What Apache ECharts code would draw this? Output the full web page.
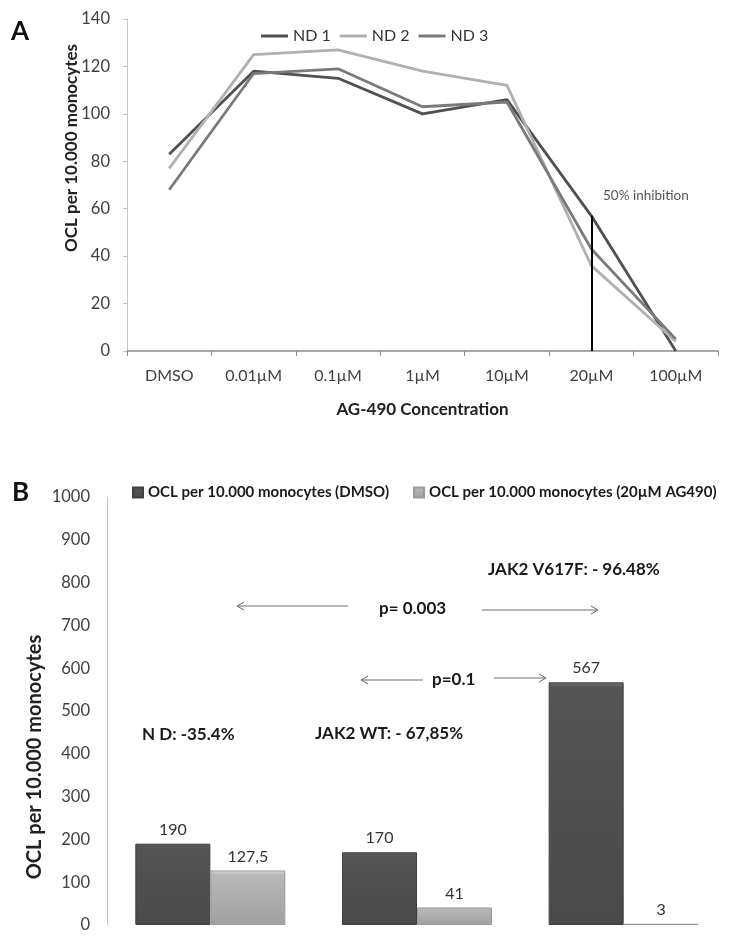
<!DOCTYPE html>
<html>
<head>
<meta charset="utf-8">
<script src="https://cdn.jsdelivr.net/npm/echarts@6/dist/echarts.min.js"></script>
<style>
  html, body { margin: 0; padding: 0; background: #fff; }
  #chart { width: 732px; height: 944px; }
</style>
</head>
<body>
<div id="chart"></div>
<script>
// ---------- Data: panel A ----------
const concentrations = ['DMSO', '0.01µM', '0.1µM', '1µM', '10µM', '20µM', '100µM'];
const nd1 = [83, 118, 115, 100, 106, 57, 0];
const nd2 = [77, 125, 127, 118, 112, 36, 4];
const nd3 = [68, 117, 119, 103, 105, 43, 5];
const inhibitionAt = '20µM';
const inhibitionValue = 57;
const yMinA = 0, yMaxA = 140, yStepA = 20;

// ---------- Data: panel B ----------
const groupsB = ['N D', 'JAK2 WT', 'JAK2 V617F'];
const dmsoValues = [190, 170, 567];
const ag490Values = [127.5, 41, 3];
const yMinB = 0, yMaxB = 1000, yStepB = 100;

const FONT = 'Lato, "Open Sans", sans-serif';
const chart = echarts.init(document.getElementById('chart'));

function arrow(x1, x2, y, headAtLeft) {
  const hx = headAtLeft ? x1 : x2;
  const d = headAtLeft ? 7 : -7;
  return [
    { type: 'line', shape: { x1: x1, y1: y, x2: x2, y2: y }, style: { stroke: '#6a6a6a', lineWidth: 1 } },
    { type: 'polyline', shape: { points: [[hx + d, y - 4], [hx, y], [hx + d, y + 4]] }, style: { stroke: '#6a6a6a', lineWidth: 1, fill: null } }
  ];
}

function txt(x, y, text, size, weight, color) {
  return {
    type: 'text', x: x, y: y,
    style: { text: text, fontFamily: FONT, fontSize: size, fontWeight: weight, fill: color, align: 'left', verticalAlign: 'middle' }
  };
}

const graphics = [
  txt(11, 32, 'A', 26, 'bold', '#111'),
  txt(12, 493, 'B', 26, 'bold', '#111'),
  { type: 'text', x: 72, y: 148, rotation: Math.PI / 2,
    style: { text: 'OCL per 10.000 monocytes', fontFamily: FONT, fontSize: 17, fontWeight: 'bold', fill: '#222', align: 'center', verticalAlign: 'middle' } },
  { type: 'text', x: 35, y: 757, rotation: Math.PI / 2,
    style: { text: 'OCL per 10.000 monocytes', fontFamily: FONT, fontSize: 20, fontWeight: 'bold', fill: '#222', align: 'center', verticalAlign: 'middle' } },
  txt(603, 196, '50% inhibition', 13.5, 'normal', '#555'),
  txt(142, 735, 'N D: -35.4%', 17, 'bold', '#1a1a1a'),
  txt(315, 734, 'JAK2 WT: - 67,85%', 17, 'bold', '#1a1a1a'),
  txt(488, 570, 'JAK2 V617F: - 96.48%', 17, 'bold', '#1a1a1a'),
  txt(379, 609, 'p= 0.003', 17, 'bold', '#1a1a1a'),
  txt(432, 680, 'p=0.1', 17, 'bold', '#1a1a1a')
].concat(
  arrow(237, 348, 606, true),
  arrow(482, 598, 610, false),
  arrow(361, 423, 680, true),
  arrow(494, 546, 678, false)
);

const lineCommon = { type: 'line', xAxisIndex: 0, yAxisIndex: 0, symbol: 'none', smooth: false };

const option = {
  animation: false,
  backgroundColor: '#fff',
  textStyle: { fontFamily: FONT },
  graphic: graphics,
  legend: [
    {
      data: ['ND 1', 'ND 2', 'ND 3'],
      left: 256, top: 23,
      icon: 'rect', itemWidth: 27, itemHeight: 3, itemGap: 9,
      textStyle: { fontFamily: FONT, fontSize: 16, color: '#333' }
    },
    {
      data: ['OCL per 10.000 monocytes (DMSO)', 'OCL per 10.000 monocytes (20µM AG490)'],
      left: 127, top: 480,
      icon: 'rect', itemWidth: 10, itemHeight: 10, itemGap: 24,
      textStyle: { fontFamily: FONT, fontSize: 15, fontWeight: 'bold', color: '#1a1a1a' }
    }
  ],
  grid: [
    { left: 127, width: 591, top: 19, height: 332 },
    { left: 107, width: 620, top: 497, height: 428 }
  ],
  xAxis: [
    {
      gridIndex: 0, type: 'category', data: concentrations, boundaryGap: true,
      name: 'AG-490 Concentration', nameLocation: 'middle', nameGap: 50,
      nameTextStyle: { fontFamily: FONT, fontSize: 17, fontWeight: 'bold', color: '#222' },
      axisLine: { lineStyle: { color: '#8c8c8c', width: 1.5 } },
      axisTick: { show: true, length: 5, lineStyle: { color: '#8c8c8c' } },
      axisLabel: { fontSize: 16, color: '#404040', margin: 17, fontFamily: FONT },
      splitLine: { show: false }
    },
    {
      gridIndex: 1, type: 'category', data: groupsB,
      axisLine: { show: false }, axisTick: { show: false }, axisLabel: { show: false }, splitLine: { show: false }
    }
  ],
  yAxis: [
    {
      gridIndex: 0, type: 'value', min: yMinA, max: yMaxA, interval: yStepA,
      axisLine: { show: true, lineStyle: { color: '#c4c4c4' } },
      axisTick: { show: true, length: 4, lineStyle: { color: '#c4c4c4' } },
      axisLabel: { fontSize: 16.5, color: '#404040', margin: 17, fontFamily: FONT },
      splitLine: { show: false }
    },
    {
      gridIndex: 1, type: 'value', min: yMinB, max: yMaxB, interval: yStepB,
      axisLine: { show: true, lineStyle: { color: '#c4c4c4' } },
      axisTick: { show: false },
      axisLabel: { fontSize: 16.5, color: '#404040', margin: 17, fontFamily: FONT, formatter: function (v) { return String(v); } },
      splitLine: { show: false }
    }
  ],
  series: [
    Object.assign({}, lineCommon, {
      name: 'ND 1', data: nd1, color: '#505050', lineStyle: { width: 2.8, color: '#505050' },
      markLine: {
        silent: true, symbol: ['none', 'none'],
        lineStyle: { color: '#000', width: 2, type: 'solid' },
        label: { show: false },
        data: [[{ coord: [inhibitionAt, 0] }, { coord: [inhibitionAt, inhibitionValue] }]]
      }
    }),
    Object.assign({}, lineCommon, {
      name: 'ND 2', data: nd2, color: '#b0b0b0', lineStyle: { width: 2.8, color: '#b0b0b0' }
    }),
    Object.assign({}, lineCommon, {
      name: 'ND 3', data: nd3, color: '#7a7a7a', lineStyle: { width: 2.8, color: '#7a7a7a' }
    }),
    {
      type: 'bar', name: 'OCL per 10.000 monocytes (DMSO)', xAxisIndex: 1, yAxisIndex: 1,
      data: dmsoValues, barWidth: 75, barGap: '0%',
      color: '#4f4f4f',
      itemStyle: {
        color: new echarts.graphic.LinearGradient(0, 0, 0, 1, [
          { offset: 0, color: '#707070' }, { offset: 0.02, color: '#555' }, { offset: 1, color: '#4a4a4a' }
        ]),
        borderColor: '#3f3f3f', borderWidth: 1
      },
      label: { show: true, position: 'top', distance: 6, fontSize: 16, color: '#333', fontFamily: FONT }
    },
    {
      type: 'bar', name: 'OCL per 10.000 monocytes (20µM AG490)', xAxisIndex: 1, yAxisIndex: 1,
      data: ag490Values, barWidth: 75,
      color: '#ababab',
      itemStyle: {
        color: new echarts.graphic.LinearGradient(0, 0, 0, 1, [
          { offset: 0, color: '#d6d6d6' }, { offset: 0.08, color: '#b8b8b8' }, { offset: 1, color: '#a0a0a0' }
        ]),
        borderColor: '#9a9a9a', borderWidth: 1
      },
      label: {
        show: true, position: 'top', distance: 6, fontSize: 16, color: '#333', fontFamily: FONT,
        formatter: function (p) { return String(p.value).replace('.', ','); }
      }
    }
  ]
};

chart.setOption(option);
</script>
</body>
</html>
